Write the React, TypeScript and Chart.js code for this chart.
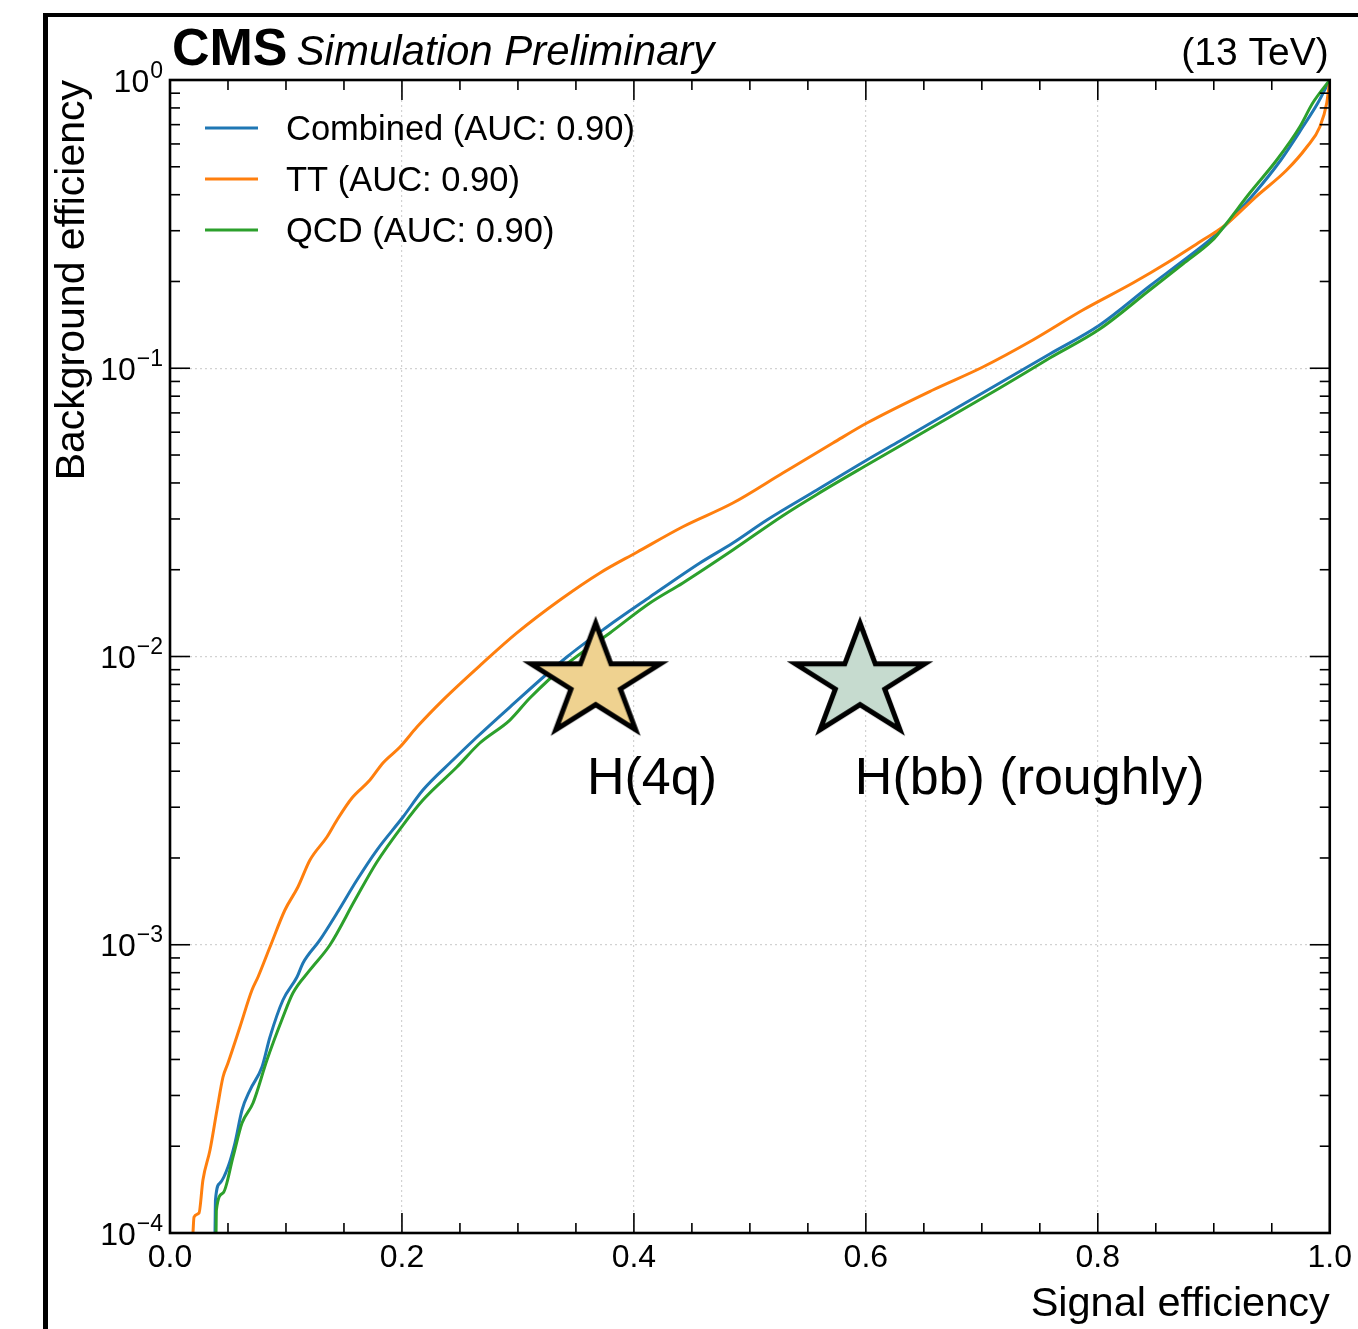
import React, { useEffect, useRef } from 'react';
import { Chart, registerables } from 'chart.js';

Chart.register(...registerables);

const FONT = '"Liberation Sans", Arial, Helvetica, sans-serif';

// ---- Data ----
const combinedX = [0.0388, 0.0392, 0.0431, 0.05, 0.056, 0.0621, 0.069, 0.0793, 0.0862, 0.0974, 0.1095, 0.1147, 0.1293, 0.144, 0.1612, 0.1784, 0.2009, 0.2181, 0.244, 0.2647, 0.2931, 0.3422, 0.3767, 0.4138, 0.4569, 0.4853, 0.5147, 0.5578, 0.6009, 0.6293, 0.6724, 0.7155, 0.7586, 0.8017, 0.8448, 0.8733, 0.8966, 0.9078, 0.9353, 0.9578, 0.9767, 0.9897, 1.0];
const combinedY = [1.0e-4, 1.302e-4, 1.491e-4, 1.694e-4, 2.052e-4, 2.671e-4, 3.133e-4, 3.766e-4, 4.786e-4, 6.431e-4, 7.728e-4, 8.643e-4, 1.039e-3, 1.288e-3, 1.677e-3, 2.131e-3, 2.774e-3, 3.442e-3, 4.374e-3, 5.256e-3, 6.68e-3, 9.96e-3, 1.266e-2, 1.608e-2, 2.11e-2, 2.476e-2, 2.975e-2, 3.781e-2, 4.804e-2, 5.592e-2, 7.05e-2, 8.889e-2, 0.1121, 0.1413, 0.1929, 0.2355, 0.2786, 0.3066, 0.4055, 0.5278, 0.687, 0.8321, 1.0];

const ttX = [0.0198, 0.0207, 0.025, 0.0284, 0.0345, 0.0405, 0.0457, 0.05, 0.0603, 0.0707, 0.0759, 0.0862, 0.0991, 0.1103, 0.1207, 0.1353, 0.144, 0.1569, 0.1724, 0.1836, 0.1983, 0.2129, 0.2353, 0.2698, 0.2991, 0.3362, 0.3707, 0.4026, 0.4422, 0.4853, 0.5284, 0.5716, 0.6009, 0.6578, 0.7009, 0.744, 0.7871, 0.8302, 0.8595, 0.8905, 0.9078, 0.9371, 0.9629, 0.9802, 0.9914, 0.9974, 1.0];
const ttY = [1.0e-4, 1.136e-4, 1.173e-4, 1.527e-4, 1.94e-4, 2.671e-4, 3.477e-4, 3.888e-4, 5.184e-4, 6.966e-4, 7.728e-4, 9.82e-4, 1.32e-3, 1.586e-3, 1.968e-3, 2.365e-3, 2.709e-3, 3.229e-3, 3.727e-3, 4.271e-3, 4.853e-3, 5.691e-3, 7.06e-3, 9.5e-3, 1.207e-2, 1.57e-2, 1.949e-2, 2.3e-2, 2.82e-2, 3.407e-2, 4.331e-2, 5.503e-2, 6.456e-2, 8.406e-2, 0.101, 0.1253, 0.1592, 0.1975, 0.2318, 0.2786, 0.309, 0.3958, 0.4872, 0.5855, 0.687, 0.8321, 1.0];

const qcdX = [0.0397, 0.04, 0.0457, 0.0543, 0.0621, 0.0716, 0.0836, 0.0974, 0.106, 0.1207, 0.1379, 0.1595, 0.1784, 0.2009, 0.2181, 0.2474, 0.2672, 0.2931, 0.3103, 0.3422, 0.3793, 0.4138, 0.4422, 0.4853, 0.5284, 0.5578, 0.6009, 0.6293, 0.6724, 0.7155, 0.7586, 0.8017, 0.8448, 0.8733, 0.8991, 0.9078, 0.931, 0.9543, 0.9741, 0.9853, 1.0];
const qcdY = [1.0e-4, 1.202e-4, 1.376e-4, 1.835e-4, 2.407e-4, 2.825e-4, 3.982e-4, 5.615e-4, 6.803e-4, 8.176e-4, 9.98e-4, 1.429e-3, 1.937e-3, 2.602e-3, 3.178e-3, 4.136e-3, 5.011e-3, 6.02e-3, 7.178e-3, 9.42e-3, 1.207e-2, 1.533e-2, 1.8e-2, 2.342e-2, 3.08e-2, 3.65e-2, 4.616e-2, 5.373e-2, 6.776e-2, 8.541e-2, 0.1085, 0.1368, 0.1868, 0.2299, 0.2786, 0.3066, 0.4055, 0.5278, 0.687, 0.8321, 1.0];

const seriesNames = ['Combined (AUC: 0.90)', 'TT (AUC: 0.90)', 'QCD (AUC: 0.90)'];
const seriesColors = ['#1f77b4', '#ff7f0e', '#2ca02c'];

const markerNames = ['H(4q)', 'H(bb) (roughly)'];
const markerX = [0.367, 0.595];
const markerY = [0.00815, 0.00815];
const markerFill = ['#efd290', '#c6dbcf'];
const markerLabelX = [0.3595, 0.5905];
const markerLabelY = [0.00333, 0.00333];

const xTickValues = [0, 0.2, 0.4, 0.6, 0.8, 1.0];
const yTickExponents = [0, -1, -2, -3, -4];

const titleBold = 'CMS';
const titleItalic = 'Simulation Preliminary';
const titleRight = '(13 TeV)';
const xTitle = 'Signal efficiency';
const yTitle = 'Background efficiency';

const TRANSPARENT = 'rgba(0,0,0,0)';
const GRID = '#d2d2d2';

function makeStar(fill: string): HTMLCanvasElement {
  const c = document.createElement('canvas');
  c.width = 160;
  c.height = 144;
  const g = c.getContext('2d')!;
  const cx = 80, cy = 72, Rx = 68, Ry = 59, ri = 0.381966;
  g.beginPath();
  for (let i = 0; i < 10; i++) {
    const ang = -Math.PI / 2 + (i * Math.PI) / 5;
    const r = i % 2 === 0 ? 1 : ri;
    const px = cx + Math.cos(ang) * r * Rx;
    const py = cy + Math.sin(ang) * r * Ry;
    if (i === 0) g.moveTo(px, py);
    else g.lineTo(px, py);
  }
  g.closePath();
  g.fillStyle = fill;
  g.fill();
  g.lineWidth = 5;
  g.lineJoin = 'miter';
  g.miterLimit = 10;
  g.strokeStyle = '#000';
  g.stroke();
  return c;
}

const decorPlugin = {
  id: 'decor',
  afterDatasetsDraw(chart: any) {
    const { ctx, scales } = chart;
    ctx.save();
    ctx.fillStyle = '#000';
    ctx.font = `52px ${FONT}`;
    ctx.textAlign = 'left';
    ctx.textBaseline = 'alphabetic';
    markerNames.forEach((t, i) => {
      ctx.fillText(t, scales.x.getPixelForValue(markerLabelX[i]), scales.y.getPixelForValue(markerLabelY[i]));
    });
    ctx.restore();
  },
  afterDraw(chart: any) {
    const { ctx, chartArea: a, scales } = chart;
    const xs = scales.x;
    const ys = scales.y;
    ctx.save();
    const line = (x1: number, y1: number, x2: number, y2: number) => {
      ctx.beginPath();
      ctx.moveTo(x1, y1);
      ctx.lineTo(x2, y2);
      ctx.stroke();
    };
    ctx.strokeStyle = '#000';
    // ticks (inside, all four sides)
    ctx.lineWidth = 1.6;
    for (let i = 0; i <= 20; i++) {
      const px = xs.getPixelForValue(i * 0.05);
      const len = i % 4 === 0 ? 20 : 10;
      line(px, a.bottom, px, a.bottom - len);
      line(px, a.top, px, a.top + len);
    }
    for (let e = -4; e <= 0; e++) {
      for (let m = 1; m <= 9; m++) {
        const v = m * Math.pow(10, e);
        if (v > 1.0000001) break;
        const py = ys.getPixelForValue(v);
        const len = m === 1 ? 20 : 10;
        line(a.left, py, a.left + len, py);
        line(a.right, py, a.right - len, py);
      }
    }
    // frame
    ctx.lineWidth = 2.6;
    ctx.strokeRect(a.left, a.top, a.right - a.left, a.bottom - a.top);

    // y tick labels with superscripts
    ctx.fillStyle = '#000';
    ctx.textAlign = 'left';
    ctx.textBaseline = 'alphabetic';
    yTickExponents.forEach((e) => {
      const py = ys.getPixelForValue(Math.pow(10, e));
      const sup = e === 0 ? '0' : '\u2212' + Math.abs(e);
      ctx.font = `23px ${FONT}`;
      const ws = ctx.measureText(sup).width;
      ctx.font = `32px ${FONT}`;
      const wm = ctx.measureText('10').width;
      const right = a.left - 7;
      ctx.fillText('10', right - ws - wm - 1, py + 11.5);
      ctx.font = `23px ${FONT}`;
      ctx.fillText(sup, right - ws, py + 11.5 - 14);
    });

    // header
    ctx.font = `bold 52px ${FONT}`;
    ctx.fillText(titleBold, a.left + 2, a.top - 15);
    const wb = ctx.measureText(titleBold).width;
    ctx.font = `italic 42px ${FONT}`;
    ctx.fillText(titleItalic, a.left + 2 + wb + 9, a.top - 15);
    ctx.font = `39px ${FONT}`;
    ctx.textAlign = 'right';
    ctx.fillText(titleRight, a.right - 1, a.top - 15);

    // legend
    ctx.textAlign = 'left';
    ctx.font = `34.5px ${FONT}`;
    seriesNames.forEach((name, i) => {
      const ly = a.top + 48 + i * 51;
      ctx.strokeStyle = seriesColors[i];
      ctx.lineWidth = 3;
      line(a.left + 35, ly, a.left + 88, ly);
      ctx.fillStyle = '#000';
      ctx.fillText(name, a.left + 116, ly + 12);
    });
    ctx.restore();
  },
};

export default function App() {
  const ref = useRef<HTMLCanvasElement | null>(null);

  useEffect(() => {
    const canvas = ref.current;
    if (!canvas) return;
    const stars = markerFill.map(makeStar);
    const mk = (xs: number[], ys: number[]) => xs.map((x, i) => ({ x, y: ys[i] }));
    const lineDs = (i: number, xs: number[], ys: number[], order: number) => ({
      label: seriesNames[i],
      data: mk(xs, ys),
      borderColor: seriesColors[i],
      backgroundColor: seriesColors[i],
      borderWidth: 3,
      pointRadius: 0,
      showLine: true,
      cubicInterpolationMode: 'monotone',
      order,
    });
    const chart = new Chart(canvas, {
      type: 'scatter',
      data: {
        datasets: [
          lineDs(0, combinedX, combinedY, 3),
          lineDs(1, ttX, ttY, 2),
          lineDs(2, qcdX, qcdY, 1),
          {
            label: 'markers',
            data: mk(markerX, markerY),
            pointStyle: stars as any,
            pointRadius: 10,
            showLine: false,
            order: 0,
          } as any,
        ] as any,
      },
      options: {
        animation: false,
        responsive: false,
        devicePixelRatio: 1,
        events: [],
        layout: { padding: { left: 0, top: 80, right: 28, bottom: 0 } },
        plugins: {
          legend: { display: false },
          tooltip: { enabled: false },
          title: { display: false },
        },
        scales: {
          x: {
            type: 'linear',
            position: 'bottom',
            min: 0,
            max: 1,
            afterBuildTicks: (s: any) => {
              s.ticks = xTickValues.map((v) => ({ value: v }));
            },
            ticks: {
              callback: (v: any) => Number(v).toFixed(1),
              font: { family: FONT, size: 32 },
              color: '#000',
              padding: 6,
              maxRotation: 0,
              autoSkip: false,
            },
            grid: {
              drawTicks: false,
              lineWidth: 1.2,
              color: (c: any) =>
                c.tick && c.tick.value > 0.001 && c.tick.value < 0.999 ? GRID : TRANSPARENT,
            },
            border: { display: false, dash: [2, 3] },
            title: {
              display: true,
              text: xTitle,
              align: 'end',
              font: { family: FONT, size: 41.5 },
              color: '#000',
              padding: { top: 0, bottom: 0 },
            },
            afterFit: (s: any) => {
              s.height = 96;
            },
          },
          y: {
            type: 'logarithmic',
            position: 'left',
            min: 1e-4,
            max: 1,
            ticks: { display: false },
            grid: {
              drawTicks: false,
              lineWidth: 1.2,
              color: (c: any) => {
                const v = c.tick ? c.tick.value : 0;
                if (!v) return TRANSPARENT;
                const l = Math.log10(v);
                return Math.abs(l - Math.round(l)) < 1e-6 && l < -0.5 && l > -3.5 ? GRID : TRANSPARENT;
              },
            },
            border: { display: false, dash: [2, 3] },
            title: {
              display: true,
              text: yTitle,
              align: 'end',
              font: { family: FONT, size: 41 },
              color: '#000',
              padding: { top: 48, bottom: 0 },
            },
            afterFit: (s: any) => {
              s.width = 170;
            },
          },
        },
      } as any,
      plugins: [decorPlugin],
    });
    return () => chart.destroy();
  }, []);

  return (
    <div style={{ position: 'absolute', left: 0, top: 0, width: 1358, height: 1329, background: '#fff', overflow: 'hidden' }}>
      <div
        style={{
          position: 'absolute',
          left: 43,
          top: 13,
          width: 1315,
          height: 1316,
          boxSizing: 'border-box',
          borderLeft: '5px solid #000',
          borderTop: '4px solid #000',
        }}
      />
      <canvas
        ref={ref}
        width={1358}
        height={1329}
        style={{ position: 'absolute', left: 0, top: 0, width: 1358, height: 1329 }}
      />
    </div>
  );
}
